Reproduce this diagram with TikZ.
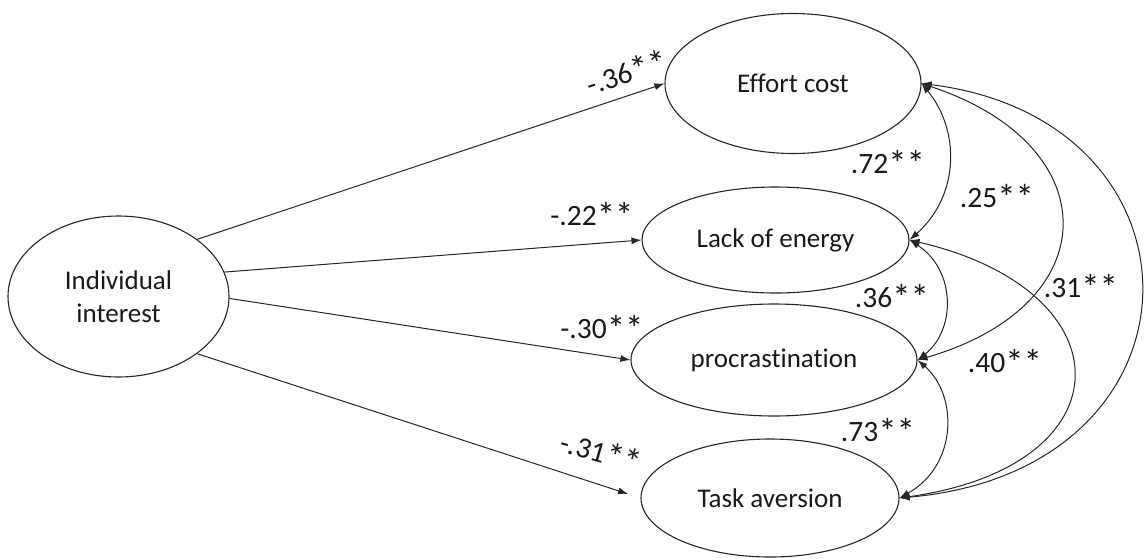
\documentclass[tikz,border=0pt]{standalone}
\usepackage{fontspec}
\setmainfont[Ligatures=NoCommon]{Carlito}
\usetikzlibrary{shapes.geometric,arrows.meta,calc}
\newcommand{\sig}{\raisebox{-3pt}{\scalebox{1.25}{*}}}
\begin{document}
\begin{tikzpicture}[x=1pt,y=-1pt,
 latent/.style={ellipse,draw=black!85,line width=1.1pt,inner sep=0pt,font=\fontsize{27}{33}\selectfont,text=black!90},
 pathline/.style={-{Latex[length=10pt,width=7pt]},line width=1pt,draw=black!85},
 cov/.style={{Latex[length=10pt,width=7pt]}-{Latex[length=10pt,width=7pt]},line width=1pt,draw=black!85},
 lab/.style={font=\fontsize{29.5}{30}\selectfont,text=black!90,inner sep=0pt}]
\useasboundingbox (0,0) rectangle (1144,558);
\node[latent,minimum width=221pt,minimum height=161pt,align=center] (ii) at (118.5,296.5) {Individual\\interest};
\node[latent,minimum width=256pt,minimum height=140pt] (ec) at (793,83.5) {Effort cost};
\node[latent,minimum width=267pt,minimum height=106pt] (le) at (775.5,240) {Lack of energy};
\node[latent,minimum width=286pt,minimum height=112pt] (pr) at (774,360) {procrastination};
\node[latent,minimum width=258pt,minimum height=118pt] (ta) at (770,498) {Task aversion};
% paths
\draw[pathline] (ii.36) -- (ec.west);
\draw[pathline] (ii.13) -- (le.west);
\draw[pathline] (ii.-1) -- (pr.west);
\draw[pathline,shorten >=13pt] (ii.-36) -- (ta.west);
% covariances
\draw[cov] (ec.east) .. controls (960,130) and (960,195) .. (le.east);
\draw[cov] (le.east) .. controls (956,270) and (956,330) .. (pr.east);
\draw[cov] (pr.east) .. controls (958,395) and (958,465) .. (ta.east);
\draw[cov] (ec.east) .. controls (1108,145) and (1108,305) .. (pr.east);
\draw[cov] (le.east) .. controls (1129,291) and (1129,466) .. (ta.east);
\draw[cov] (ec.east) .. controls (1217,120) and (1217,470) .. (ta.east);
% labels
\node[lab,rotate=18] (l1) at (627,73) {-.36\sig\sig};
\node[lab] (l2) at (592,215) {-.22\sig\sig};
\node[lab] (l3) at (602,328) {-.30\sig\sig};
\node[lab,rotate=-16] (l4) at (601,453) {-.31\sig\sig};
\node[lab] (c1) at (888,163) {.72\sig\sig};
\node[lab] (c2) at (997,197) {.25\sig\sig};
\node[lab] (c3) at (892,297) {.36\sig\sig};
\node[lab] (c4) at (1081,287) {.31\sig\sig};
\node[lab] (c5) at (1005,362) {.40\sig\sig};
\node[lab] (c6) at (878,431) {.73\sig\sig};
\end{tikzpicture}
\end{document}
